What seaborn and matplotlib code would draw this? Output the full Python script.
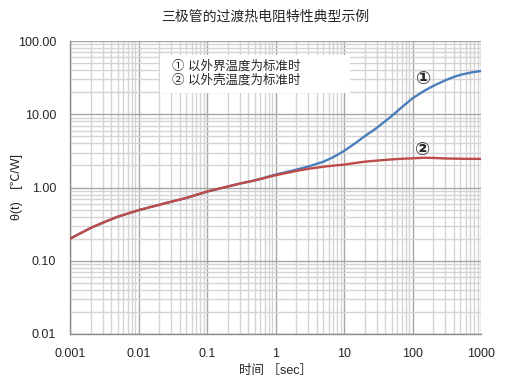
import matplotlib
matplotlib.use("Agg")
import matplotlib.pyplot as plt
import matplotlib.ticker as mticker
from matplotlib.patches import Rectangle
import seaborn as sns
import pandas as pd

time_sec = [0.001, 0.002, 0.003, 0.005, 0.01, 0.02, 0.03, 0.05, 0.1, 0.2, 0.3,
            0.5, 1, 2, 3, 5, 7, 10, 15, 20, 30, 50, 70, 100, 150, 200, 250,
            300, 400, 500, 700, 1000]
theta_ambient = [0.2, 0.28, 0.33, 0.4, 0.49, 0.58, 0.64, 0.72, 0.88, 1.03, 1.13,
                 1.25, 1.5, 1.75, 1.93, 2.25, 2.6, 3.15, 4.1, 5.0, 6.5, 9.5,
                 12.5, 16.5, 21.0, 24.3, 26.8, 29.0, 32.3, 34.5, 37.0, 39.0]
theta_case = [0.2, 0.28, 0.33, 0.4, 0.49, 0.58, 0.64, 0.72, 0.88, 1.03, 1.13,
              1.25, 1.47, 1.68, 1.8, 1.92, 1.99, 2.05, 2.17, 2.25, 2.33, 2.42,
              2.47, 2.5, 2.55, 2.53, 2.51, 2.49, 2.48, 2.47, 2.46, 2.46]
series_names = ["① 以外界温度为标准时", "② 以外壳温度为标准时"]
x_ticks = [0.001, 0.01, 0.1, 1, 10, 100, 1000]
x_tick_labels = ["0.001", "0.01", "0.1", "1", "10", "100", "1000"]
y_ticks = [0.01, 0.1, 1, 10, 100]
y_tick_labels = ["0.01", "0.10", "1.00", "10.00", "100.00"]
title = "三极管的过渡热电阻特性典型示例"
x_label = "时间 ［sec］"
y_label = "θ(t)　[℃/W]"

sns.set_style("white")
plt.rcParams['font.family'] = ['Liberation Sans', 'Noto Sans CJK SC', 'DejaVu Sans']

df = pd.DataFrame({
    "t": time_sec * 2,
    "theta": theta_ambient + theta_case,
    "series": [series_names[0]] * len(time_sec) + [series_names[1]] * len(time_sec),
})

fig = plt.figure(figsize=(5.05, 3.79), dpi=100)
ax = fig.add_axes([70 / 505, 1 - 334 / 379, (481 - 70) / 505, (334 - 41) / 379])

sns.lineplot(data=df, x="t", y="theta", hue="series",
             palette=["#4A7EBB", "#BE4B48"], linewidth=1.7, ax=ax,
             legend=False, zorder=3)

ax.set_xscale("log")
ax.set_yscale("log")
ax.set_xlim(0.001, 1000)
ax.set_ylim(0.01, 100)

ax.xaxis.set_major_locator(mticker.FixedLocator(x_ticks))
ax.yaxis.set_major_locator(mticker.FixedLocator(y_ticks))
ax.xaxis.set_minor_locator(mticker.LogLocator(base=10, subs=range(2, 10), numticks=20))
ax.yaxis.set_minor_locator(mticker.LogLocator(base=10, subs=range(2, 10), numticks=20))
ax.set_xticklabels(x_tick_labels)
ax.set_yticklabels(y_tick_labels)
ax.xaxis.set_minor_formatter(mticker.NullFormatter())
ax.yaxis.set_minor_formatter(mticker.NullFormatter())

ax.grid(True, which="major", color="#A6A6A6", linewidth=1.0, zorder=0)
ax.grid(True, which="minor", color="#D4D4D4", linewidth=1.0, zorder=0)
ax.set_axisbelow(True)

for s in ["top", "right"]:
    ax.spines[s].set_visible(False)
for s in ["left", "bottom"]:
    ax.spines[s].set_color("#8C8C8C")
    ax.spines[s].set_linewidth(1.0)

ax.tick_params(axis="both", which="major", direction="out", length=4,
               color="#8C8C8C", labelsize=9, pad=6)
ax.tick_params(axis="both", which="minor", length=0)

ax.set_xlabel(x_label, fontsize=9, labelpad=4)
ax.set_ylabel("")
fig.text(17 / 505, 1 - 187 / 379, y_label, fontsize=9, rotation=90,
         ha="center", va="center")
fig.text(265 / 505, 1 - 17 / 379, title, fontsize=10, ha="center", va="center")

# legend-like white box
ax.add_patch(Rectangle((0.219, 0.8225), 0.462, 0.13, transform=ax.transAxes,
                       facecolor="white", edgecolor="none", zorder=4))
ax.text(0.248, 0.913, series_names[0], transform=ax.transAxes, fontsize=9,
        va="center", ha="left", zorder=5)
ax.text(0.248, 0.865, series_names[1], transform=ax.transAxes, fontsize=9,
        va="center", ha="left", zorder=5)

ax.text(145, 30, "①", fontsize=13, fontweight="bold", ha="center", va="center",
        family=['DejaVu Sans'], zorder=6)
ax.text(140, 3.3, "②", fontsize=13, fontweight="bold", ha="center", va="center",
        family=['DejaVu Sans'], zorder=6)

fig.savefig("out.png", dpi=100)
